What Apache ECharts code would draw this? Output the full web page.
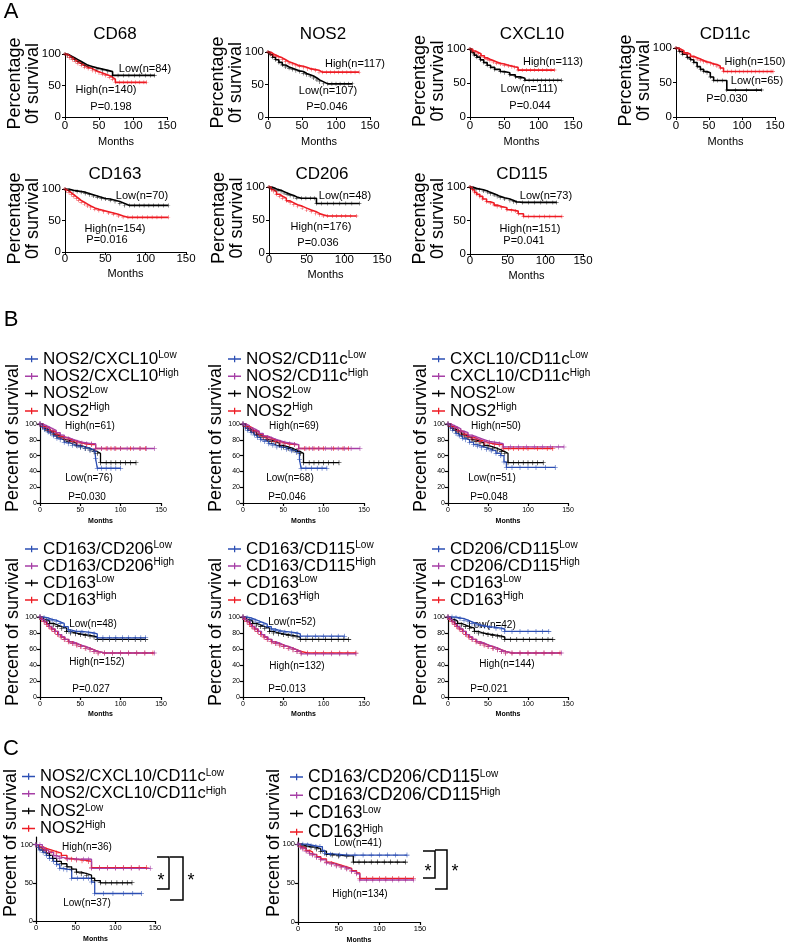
<!DOCTYPE html>
<html><head><meta charset="utf-8">
<script src="https://cdn.jsdelivr.net/npm/echarts/dist/echarts.min.js"></script>
<style>html,body{margin:0;padding:0;background:#fff}#c{width:789px;height:944px}</style>
</head><body><div id="c"></div>
<script>
// ---------- DATA (month, % survival) ----------
// Panel A
const cd68Low   = [[0,100],[4,97],[9,94],[14,91],[19,88],[24,85],[29,82],[34,80],[40,78],[47,76],[55,74],[63,72],[70,66],[78,66],[86,66],[94,66],[102,66],[110,66],[118,66],[126,66],[132,66]];
const cd68High  = [[0,100],[3,97],[7,94],[11,91],[15,88],[19,85],[24,82],[29,79],[34,77],[40,74],[45,72],[50,70],[55,68],[60,66],[65,63],[70,60],[74,55],[80,55],[86,55],[92,55],[98,55],[104,55],[110,55],[116,55],[120,55]];
const nos2High  = [[0,100],[4,97],[8,95],[12,93],[16,91],[21,88],[26,85],[31,83],[36,81],[41,79],[46,78],[52,76],[58,74],[64,73],[70,72],[75,69],[80,69],[86,69],[92,69],[98,69],[104,69],[110,69],[116,69],[122,69],[128,69],[134,69]];
const nos2Low   = [[0,100],[3,96],[7,92],[11,88],[16,84],[21,80],[26,77],[31,75],[36,73],[41,71],[46,70],[52,67],[57,65],[62,63],[67,60],[72,57],[76,54],[82,51],[88,51],[94,51],[100,51],[106,51],[112,51],[118,51],[124,51]];
const cxcl10High= [[0,100],[4,97],[8,95],[12,93],[16,90],[21,87],[25,85],[29,83],[34,81],[39,79],[44,78],[50,76],[56,75],[61,74],[65,73],[70,69],[76,69],[82,69],[88,69],[94,69],[100,69],[106,69],[112,69],[118,69],[123,69]];
const cxcl10Low = [[0,100],[3,95],[6,91],[10,88],[15,84],[20,80],[25,76],[30,73],[36,70],[44,67],[50,65],[58,62],[66,59],[73,57],[80,54],[86,54],[92,54],[98,54],[104,54],[110,54],[116,54],[122,54],[128,54],[133,54]];
const cd11cHigh = [[0,100],[4,98],[8,96],[12,93],[17,91],[22,88],[27,86],[32,84],[37,82],[42,80],[47,79],[52,77],[57,76],[62,74],[67,71],[72,66],[78,66],[84,66],[90,66],[96,66],[102,66],[108,66],[114,66],[120,66],[126,66],[132,66],[138,66],[144,66],[147,66]];
const cd11cLow  = [[0,100],[5,95],[10,91],[17,86],[22,83],[27,79],[32,73],[37,69],[42,66],[47,64],[52,58],[57,53],[63,53],[70,53],[77,39],[90,39],[107,39],[122,39],[130,39]];
const cd163Low  = [[0,100],[5,98],[10,97],[15,96],[20,95],[25,93],[30,91],[35,89],[40,87],[45,85],[50,84],[56,82],[62,80],[68,77],[74,74],[80,74],[86,74],[92,74],[98,74],[104,74],[110,74],[116,74],[122,74],[128,74]];
const cd163High = [[0,100],[2,97],[5,94],[8,91],[11,88],[14,85],[17,82],[20,79],[24,76],[28,73],[32,70],[37,68],[42,66],[48,64],[54,62],[60,60],[66,57],[72,55],[78,55],[84,55],[90,55],[96,55],[102,55],[108,55],[114,55],[120,55],[128,55]];
const cd206Low  = [[0,100],[4,98],[8,96],[12,95],[16,93],[20,91],[24,89],[28,87],[33,85],[37,83],[43,83],[49,83],[55,83],[60,83],[63,75],[70,75],[78,75],[86,75],[94,75],[102,75],[110,75],[120,75]];
const cd206High = [[0,100],[3,96],[6,93],[10,89],[14,86],[18,83],[23,79],[28,76],[33,73],[38,71],[44,68],[50,65],[56,63],[62,60],[67,58],[72,56],[78,56],[84,56],[90,56],[96,56],[102,56],[108,56],[116,56]];
const cd115Low  = [[0,100],[4,98],[8,97],[13,96],[18,94],[23,92],[27,90],[32,88],[36,86],[40,84],[46,82],[53,80],[58,78],[62,77],[70,77],[78,77],[86,77],[94,77],[102,77],[110,77],[115,77]];
const cd115High = [[0,100],[3,96],[6,92],[9,89],[13,86],[17,82],[22,78],[27,76],[32,73],[36,71],[42,69],[49,66],[55,65],[60,64],[64,60],[71,56],[78,56],[85,56],[92,56],[99,56],[106,56],[113,56],[122,56]];
// Panel B, row 1 (NOS2 single-marker groups shared)
const bNos2Low  = [[0,100],[3,97],[6,94],[9,92],[13,90],[17,87],[21,85],[25,83],[30,80],[35,78],[40,76],[45,73],[50,71],[56,69],[62,67],[67,65],[71,63],[75,51],[82,51],[88,51],[94,51],[100,51],[106,51],[112,51],[119,51]];
const bNos2High = [[0,100],[4,97],[8,95],[12,92],[16,90],[20,87],[25,84],[30,82],[35,80],[40,78],[46,76],[52,75],[58,74],[64,74],[69,69],[76,69],[82,69],[88,69],[94,69],[100,69],[112,69],[124,69],[131,69]];
const nos2Cxcl10Low  = [[0,100],[3,96],[6,93],[10,90],[13,88],[17,85],[21,82],[25,80],[30,77],[35,75],[40,73],[46,72],[50,71],[56,69],[62,67],[68,65],[69,56],[71,44],[76,44],[82,44],[88,44],[94,44],[100,44]];
const nos2Cxcl10High = [[0,100],[4,98],[8,96],[12,94],[16,92],[20,89],[25,86],[30,83],[35,81],[40,79],[46,77],[52,76],[58,75],[64,75],[69,69],[76,69],[84,69],[92,69],[100,69],[108,69],[116,69],[124,69],[132,69],[142,69]];
const nos2Cd11cLow   = [[0,100],[3,95],[6,92],[10,89],[14,86],[18,83],[22,80],[27,78],[32,75],[37,73],[42,71],[48,70],[54,68],[60,66],[66,64],[70,55],[72,44],[78,44],[85,44],[92,44],[98,44],[104,44]];
const nos2Cd11cHigh  = [[0,100],[4,98],[8,95],[12,93],[16,91],[20,88],[25,85],[30,83],[35,81],[40,79],[46,77],[52,76],[58,75],[64,74],[69,69],[78,69],[86,69],[94,69],[102,69],[110,69],[118,69],[126,69],[134,69],[145,69]];
const cxcl10Cd11cLow = [[0,100],[3,95],[6,92],[10,88],[14,85],[18,82],[22,80],[27,77],[32,74],[37,72],[42,70],[48,68],[54,66],[60,63],[66,60],[70,52],[73,45],[80,45],[90,45],[100,45],[110,45],[122,45],[134,45]];
const cxcl10Cd11cHigh= [[0,100],[4,98],[8,96],[12,94],[16,91],[20,89],[25,86],[30,84],[35,82],[40,80],[46,78],[52,77],[58,76],[64,75],[69,71],[78,71],[88,71],[98,71],[108,71],[118,71],[128,71],[138,71],[145,71]];
// Panel B, row 2 (CD163 single-marker groups shared)
const bCd163Low  = [[0,100],[4,97],[8,95],[12,92],[17,90],[22,88],[27,86],[33,82],[38,80],[44,79],[50,78],[56,77],[62,76],[67,75],[71,72],[78,72],[86,72],[94,72],[102,72],[110,72],[118,72],[125,72],[131,72]];
const bCd163High = [[0,100],[2,97],[5,94],[8,91],[11,88],[14,85],[18,82],[22,78],[26,75],[30,72],[35,69],[40,67],[45,65],[50,63],[56,61],[62,59],[67,57],[72,55],[80,55],[90,55],[100,55],[110,55],[120,55],[130,55],[140,55]];
const cd163Cd206Low  = [[0,100],[5,99],[10,97],[15,96],[20,94],[25,92],[30,88],[35,84],[38,82],[45,82],[52,81],[60,80],[67,79],[71,74],[78,74],[86,74],[94,74],[102,74],[110,74],[118,74],[125,74],[131,74]];
const cd163Cd206High = [[0,100],[3,97],[6,94],[9,91],[12,88],[15,85],[19,82],[23,78],[27,75],[31,72],[36,69],[41,67],[46,65],[51,63],[57,61],[62,59],[67,57],[72,55],[80,55],[90,55],[100,55],[110,55],[120,55],[130,55],[142,55]];
const cd163Cd115Low  = [[0,100],[5,99],[10,97],[15,95],[20,93],[25,91],[30,88],[35,85],[40,83],[46,82],[52,81],[60,80],[67,79],[71,76],[80,76],[90,76],[100,76],[110,76],[118,76],[126,76]];
const cd163Cd115High = [[0,100],[3,97],[6,94],[9,91],[12,88],[15,85],[19,82],[23,78],[27,75],[31,72],[36,69],[41,67],[46,65],[51,63],[57,61],[62,59],[67,57],[72,54],[80,54],[90,54],[100,54],[110,54],[120,54],[130,54],[140,54]];
const cd206Cd115Low  = [[0,100],[5,100],[10,99],[15,98],[20,96],[25,94],[30,92],[35,90],[40,89],[46,88],[52,87],[60,86],[67,85],[71,82],[80,82],[90,82],[100,82],[110,82],[118,82],[126,82]];
const cd206Cd115High = [[0,100],[3,97],[6,94],[9,91],[12,88],[15,85],[19,82],[23,78],[27,75],[31,72],[36,69],[41,67],[46,65],[51,63],[57,61],[62,59],[67,57],[72,55],[80,55],[90,55],[100,55],[110,55],[120,55],[130,55],[142,55]];
// Panel C
const cNos2TripleLow  = [[0,100],[3,96],[5,93],[9,90],[13,86],[17,82],[22,78],[26,74],[30,69],[35,68],[39,67],[45,56],[52,56],[60,56],[66,56],[70,51],[74,36],[85,36],[97,36],[110,36],[122,36],[133,36]];
const cNos2TripleHigh = [[0,100],[5,100],[8,96],[11,93],[16,90],[22,86],[26,84],[30,82],[40,81],[51,81],[60,81],[66,81],[70,69],[80,69],[90,69],[100,69],[110,69],[120,69],[130,69],[144,69]];
const cNos2Low  = [[0,100],[4,96],[8,93],[13,89],[17,86],[21,82],[26,78],[32,75],[39,71],[45,68],[51,64],[57,62],[64,60],[70,56],[74,53],[81,50],[88,50],[95,50],[102,50],[109,50],[115,50],[121,50]];
const cNos2High = [[0,100],[4,97],[9,95],[13,93],[19,91],[26,89],[32,86],[39,82],[45,81],[51,80],[58,79],[66,78],[70,70],[80,70],[90,70],[100,70],[110,70],[120,70],[130,70],[139,70]];
const cCd163TripleLow  = [[0,100],[6,100],[12,99],[16,98],[22,97],[27,97],[30,92],[33,88],[40,87],[51,86],[60,86],[70,86],[80,86],[90,86],[100,86],[110,86],[120,86],[134,86]];
const cCd163TripleHigh = [[0,100],[3,96],[6,94],[10,91],[14,88],[18,86],[23,83],[28,80],[35,76],[41,74],[47,72],[53,70],[60,68],[66,65],[72,62],[76,54],[84,54],[92,54],[100,54],[108,54],[116,54],[124,54],[132,54],[142,54]];
const cCd163Low  = [[0,100],[5,98],[10,97],[16,96],[23,94],[28,91],[35,87],[42,86],[50,85],[60,85],[68,77],[75,77],[82,77],[90,77],[98,77],[106,77],[114,77],[122,77],[132,77]];
const cCd163High = [[0,100],[3,97],[6,95],[10,92],[14,90],[18,87],[23,84],[28,81],[35,77],[41,75],[47,73],[53,71],[60,69],[66,66],[72,63],[76,56],[84,56],[92,56],[100,56],[108,56],[116,56],[124,56],[132,56],[142,56]];

const xTicks = [0, 50, 100, 150];

// ---------- STYLE / LAYOUT ----------
const FONT = "'Liberation Sans', Arial, Helvetica, sans-serif";
const RED = '#ee1c24', BLACK = '#000000', BLUE = '#2c4fb4', MAG = '#a63fa6';
const CROSS = 'path://M0,4h9v1H0z M4,0h1v9H4z';
const LEGICON = 'path://M0,5h26v3H0z M12,0h2.5v13H12z';

const KIND = {
  A: {aw:1, fs:11.5, ym:4, yint:50, nfs:11, nfw:'normal', lw:1.6, sym:4},
  B: {aw:1.2, fs:7, ym:3, xm:4, yint:20, nfs:7, nfw:'bold', lw:1.3, sym:5},
  C: {aw:1.2, fs:7.5, ym:3, xm:3, yint:50, nfs:7, nfw:'bold', lw:1.3, sym:5}
};

const panels = [
  {k:'A', g:{left:65,top:54,width:102,height:63}, xm:3, gap:19, title:['CD68',115,34],
   curves:[['CD68 Low',cd68Low,BLACK],['CD68 High',cd68High,RED]],
   notes:[['Low(n=84)',145,69],['High(n=140)',106,90],['P=0.198',111,107]]},
  {k:'A', g:{left:268,top:52,width:102,height:65}, xm:3, gap:19, title:['NOS2',323,34],
   curves:[['NOS2 Low',nos2Low,BLACK],['NOS2 High',nos2High,RED]],
   notes:[['High(n=117)',355,64],['Low(n=107)',328,91],['P=0.046',327,107]]},
  {k:'A', g:{left:470,top:49,width:103,height:68}, xm:3, gap:19, title:['CXCL10',532,34],
   curves:[['CXCL10 Low',cxcl10Low,BLACK],['CXCL10 High',cxcl10High,RED]],
   notes:[['High(n=113)',553,62],['Low(n=111)',529,89],['P=0.044',530,106]]},
  {k:'A', g:{left:676,top:48,width:99,height:69}, xm:3, gap:19, title:['CD11c',725,34],
   curves:[['CD11c Low',cd11cLow,BLACK],['CD11c High',cd11cHigh,RED]],
   notes:[['High(n=150)',755,62],['Low(n=65)',757,81],['P=0.030',727,99]]},
  {k:'A', g:{left:65,top:189,width:121,height:63}, xm:1, gap:16, title:['CD163',115,174],
   curves:[['CD163 Low',cd163Low,BLACK],['CD163 High',cd163High,RED]],
   notes:[['Low(n=70)',142,196],['High(n=154)',115,229],['P=0.016',107,240]]},
  {k:'A', g:{left:269,top:187,width:113,height:66}, xm:1, gap:16, title:['CD206',322,174],
   curves:[['CD206 Low',cd206Low,BLACK],['CD206 High',cd206High,RED]],
   notes:[['Low(n=48)',345,196],['High(n=176)',321,227],['P=0.036',318,243]]},
  {k:'A', g:{left:470,top:187,width:113,height:67}, xm:1, gap:16, title:['CD115',522,174],
   curves:[['CD115 Low',cd115Low,BLACK],['CD115 High',cd115High,RED]],
   notes:[['Low(n=73)',546,196],['High(n=151)',530,229],['P=0.041',524,241]]},

  {k:'B', g:{left:40,top:424,width:121,height:79}, ylab:[13,438], gap:15,
   leg:{left:25,top:350.5,gap:0.3,fs:17,items:[['NOS2/CXCL10','Low',nos2Cxcl10Low,BLUE],['NOS2/CXCL10','High',nos2Cxcl10High,MAG],['NOS2','Low',bNos2Low,BLACK],['NOS2','High',bNos2High,RED]]},
   notes:[['High(n=61)',90,426],['Low(n=76)',89,478],['P=0.030',87,497]]},
  {k:'B', g:{left:243,top:424,width:121,height:79}, ylab:[216,438], gap:15,
   leg:{left:228,top:350.5,gap:0.3,fs:17,items:[['NOS2/CD11c','Low',nos2Cd11cLow,BLUE],['NOS2/CD11c','High',nos2Cd11cHigh,MAG],['NOS2','Low',bNos2Low,BLACK],['NOS2','High',bNos2High,RED]]},
   notes:[['High(n=69)',294,426],['Low(n=68)',290,478],['P=0.046',287,497]]},
  {k:'B', g:{left:448,top:424,width:120,height:79}, ylab:[421,438], gap:15,
   leg:{left:432,top:350.5,gap:0.3,fs:17,items:[['CXCL10/CD11c','Low',cxcl10Cd11cLow,BLUE],['CXCL10/CD11c','High',cxcl10Cd11cHigh,MAG],['NOS2','Low',bNos2Low,BLACK],['NOS2','High',bNos2High,RED]]},
   notes:[['High(n=50)',496,426],['Low(n=51)',492,478],['P=0.048',489,497]]},
  {k:'B', g:{left:40,top:617,width:121,height:80}, ylab:[13,632], gap:14,
   leg:{left:25,top:540.5,gap:0,fs:17,items:[['CD163/CD206','Low',cd163Cd206Low,BLUE],['CD163/CD206','High',cd163Cd206High,MAG],['CD163','Low',bCd163Low,BLACK],['CD163','High',bCd163High,RED]]},
   notes:[['Low(n=48)',93,624],['High(n=152)',97,662],['P=0.027',91,689]]},
  {k:'B', g:{left:243,top:617,width:121,height:80}, ylab:[216,632], gap:14,
   leg:{left:228,top:540.5,gap:0,fs:17,items:[['CD163/CD115','Low',cd163Cd115Low,BLUE],['CD163/CD115','High',cd163Cd115High,MAG],['CD163','Low',bCd163Low,BLACK],['CD163','High',bCd163High,RED]]},
   notes:[['Low(n=52)',292,622],['High(n=132)',297,666],['P=0.013',287,689]]},
  {k:'B', g:{left:448,top:617,width:120,height:80}, ylab:[421,632], gap:14,
   leg:{left:432,top:540.5,gap:0,fs:17,items:[['CD206/CD115','Low',cd206Cd115Low,BLUE],['CD206/CD115','High',cd206Cd115High,MAG],['CD163','Low',bCd163Low,BLACK],['CD163','High',bCd163High,RED]]},
   notes:[['Low(n=42)',492,625],['High(n=144)',507,664],['P=0.021',489,689]]},

  {k:'C', g:{left:36,top:837,width:119,height:84}, ymax:110, ylab:[11,843], gap:15,
   leg:{left:22,top:768,gap:0.3,fs:16.5,lh:16,items:[['NOS2/CXCL10/CD11c','Low',cNos2TripleLow,BLUE],['NOS2/CXCL10/CD11c','High',cNos2TripleHigh,MAG],['NOS2','Low',cNos2Low,BLACK],['NOS2','High',cNos2High,RED]]},
   notes:[['High(n=36)',87,847],['Low(n=37)',87,903]]},
  {k:'C', g:{left:298,top:838,width:122,height:84}, ymax:108, ylab:[274,843], gap:15,
   leg:{left:290,top:768,gap:0.3,fs:17.5,lh:16,items:[['CD163/CD206/CD115','Low',cCd163TripleLow,BLUE],['CD163/CD206/CD115','High',cCd163TripleHigh,MAG],['CD163','Low',cCd163Low,BLACK],['CD163','High',cCd163High,RED]]},
   notes:[['Low(n=41)',358,843],['High(n=134)',360,894]]}
];

// ---------- BUILD ----------
const grids=[], xAxes=[], yAxes=[], series=[], legends=[], graphics=[];
function txt(text, x, y, size, opts){
  opts = opts || {};
  return Object.assign({type:'text', x, y, silent:true, style:{
    text, font:(opts.weight||'normal')+' '+size+'px '+FONT, fill:'#000',
    textAlign:opts.align||'center', align:opts.align||'center',
    textVerticalAlign:'middle', verticalAlign:'middle', lineHeight:opts.lh||size}}, opts.rot?{rotation:Math.PI/2}:{});
}
panels.forEach((p, i) => {
  const st = KIND[p.k];
  grids.push(Object.assign({containLabel:false, outerBoundsMode:'none'}, p.g));
  const ymax = p.ymax || 100;
  const yTicks = []; for (let v = 0; v <= 100; v += st.yint) yTicks.push(v);
  xAxes.push({type:'value', gridIndex:i, min:0, max:150, interval:50,
    name:'Months', nameLocation:'middle', nameGap:p.gap,
    nameTextStyle:{fontSize:st.nfs, fontWeight:st.nfw, color:'#000', fontFamily:FONT},
    axisLine:{show:true, onZero:false, lineStyle:{color:'#000', width:st.aw}},
    axisTick:{show:true, length:3, lineStyle:{color:'#000', width:st.aw}, customValues:xTicks},
    axisLabel:{fontSize:st.fs, color:'#000', margin:(p.xm!=null?p.xm:st.xm), fontFamily:FONT, customValues:xTicks},
    splitLine:{show:false}});
  yAxes.push({type:'value', gridIndex:i, min:0, max:ymax, interval:st.yint,
    axisLine:{show:true, onZero:false, lineStyle:{color:'#000', width:st.aw}},
    axisTick:{show:true, length:3, lineStyle:{color:'#000', width:st.aw}, customValues:yTicks},
    axisLabel:{fontSize:st.fs, color:'#000', margin:st.ym, fontFamily:FONT, customValues:yTicks},
    splitLine:{show:false}});
  let curves;
  if (p.leg) {
    const names = p.leg.items.map(it => 'P'+i+'|'+it[0]+'|'+it[1]);
    // draw order: black, red, blue, magenta
    const order = [2,3,0,1];
    curves = order.map(j => [names[j], p.leg.items[j][2], p.leg.items[j][3]]);
    const lh = p.leg.lh || 17;
    legends.push({show:true, orient:'vertical', left:p.leg.left, top:p.leg.top, itemGap:p.leg.gap,
      itemWidth:13, itemHeight:7, padding:0, selectedMode:false, icon:LEGICON,
      data:names,
      formatter: n => { const s = n.split('|'); return '{m|'+s[1]+'}{s|'+s[2]+'}'; },
      textStyle:{color:'#000', fontFamily:FONT, rich:{
        m:{fontSize:p.leg.fs, lineHeight:lh, fontFamily:FONT, color:'#000'},
        s:{fontSize:10, lineHeight:11, verticalAlign:'top', fontFamily:FONT, color:'#000'}}}});
  } else curves = p.curves;
  curves.forEach(([name, data, color]) => series.push({type:'line', name, xAxisIndex:i, yAxisIndex:i,
    data, step:'end', symbol:CROSS, symbolSize:st.sym, showAllSymbol:true, animation:false, silent:true,
    lineStyle:{color, width:st.lw}, itemStyle:{color}, emphasis:{disabled:true}}));
  // texts
  if (p.title) graphics.push(txt(p.title[0], p.title[1], p.title[2], 17));
  if (p.k === 'A') graphics.push(txt('Percentage\n0f survival', p.g.left - 41, p.g.top + p.g.height/2 - 2, 18, {rot:true, lh:18}));
  else graphics.push(txt('Percent of survival', p.ylab[0], p.ylab[1], 18, {rot:true}));
  const nfs = p.k === 'A' ? 11 : 10;
  p.notes.forEach(n => graphics.push(txt(n[0], n[1], n[2], nfs)));
});

// panel letters
graphics.push(txt('A', 11, 12, 22), txt('B', 11, 320, 22), txt('C', 11, 749, 22));
// significance brackets (panel C)
function bracket(x1, x2, y1, y2){
  return {type:'polyline', silent:true, shape:{points:[[x1,y1],[x2,y1],[x2,y2],[x1,y2]]},
    style:{stroke:'#000', lineWidth:1.5, fill:null}};
}
graphics.push(bracket(157,169,857,889), bracket(170,183,857,900),
  txt('*',161,881,18), txt('*',191,881,18),
  bracket(423,435,851,878), bracket(435,447,850,889),
  txt('*',428,872,18), txt('*',455,872,18));

const chart = echarts.init(document.getElementById('c'), null, {renderer:'canvas'});
chart.setOption({backgroundColor:'#fff', animation:false, grid:grids, xAxis:xAxes, yAxis:yAxes,
  series, legend:legends, graphic:{elements:graphics}, tooltip:{show:false}});
</script></body></html>
